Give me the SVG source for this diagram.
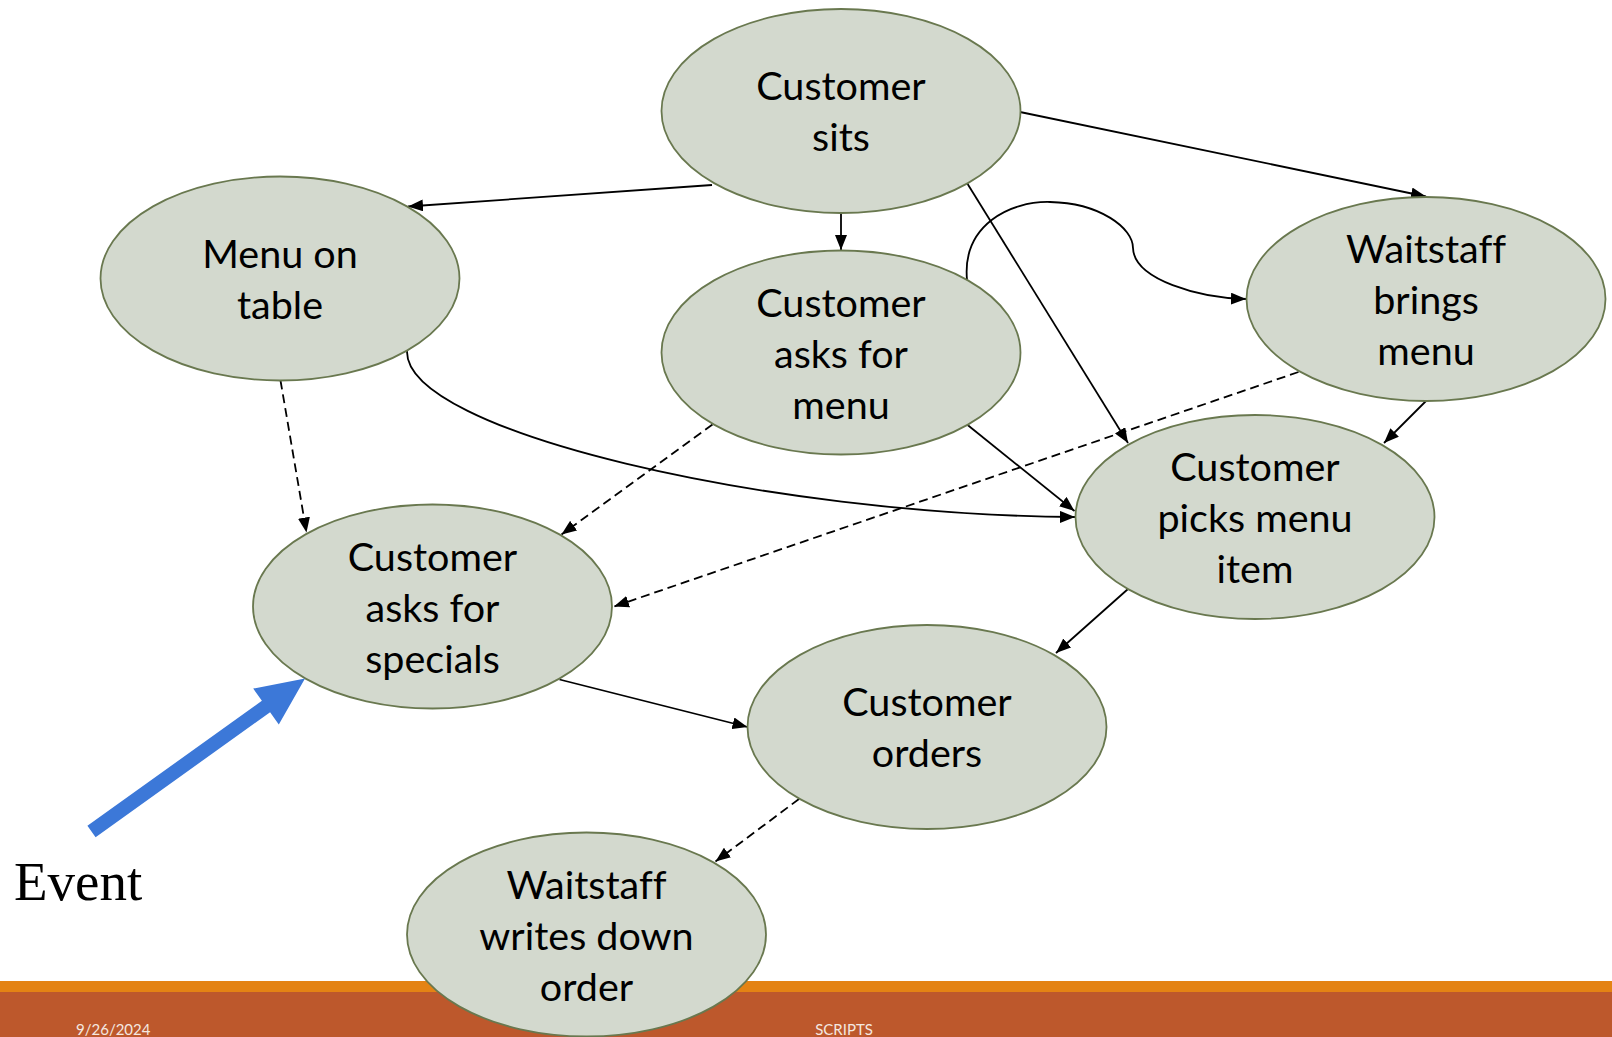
<svg xmlns="http://www.w3.org/2000/svg" width="1612" height="1037" viewBox="0 0 1612 1037">
<style>
.node ellipse{fill:#D3D9CE;stroke:#69784F;stroke-width:1.8}
.node text{font-family:Lato,"Open Sans","Liberation Sans",sans-serif;font-size:39.5px;fill:#000;text-anchor:middle;font-variant-ligatures:none}
.edge{fill:none;stroke:#000;stroke-width:1.8;marker-end:url(#ah)}
.dash{stroke-dasharray:9 5}
.foot{font-family:Lato,"Liberation Sans",sans-serif;font-size:15px;fill:#F4E8E0}
</style>
<defs>
<marker id="ah" markerUnits="userSpaceOnUse" viewBox="0 0 15 12" refX="15" refY="6" markerWidth="15" markerHeight="12" orient="auto">
<path d="M0,0 L15,6 L0,12 z" fill="#000"/>
</marker>
</defs>
<rect x="0" y="0" width="1612" height="1037" fill="#fff"/>
<g id="footer-bar">
<rect x="0" y="981" width="1612" height="11" fill="#E48314"/>
<rect x="0" y="992" width="1612" height="45" fill="#BD582C"/>
<text class="foot" x="76" y="1035">9/26/2024</text>
<text class="foot" x="844" y="1035" text-anchor="middle">SCRIPTS</text>
</g>
<g id="connectors">
<line class="edge" x1="712" y1="185" x2="408" y2="206.5"/>
<line class="edge" x1="841" y1="213" x2="841" y2="250"/>
<line class="edge" x1="1020" y1="112" x2="1426" y2="196.5"/>
<line class="edge" x1="967" y1="183" x2="1128" y2="443"/>
<path class="edge" d="M967,280 C962,225 1010,201 1050,202 C1100,203 1133,228 1133,248 C1134,280 1200,298 1246,299"/>
<path class="edge" d="M407,351 C405,432 770,515 1075,517"/>
<line class="edge" x1="967" y1="424.5" x2="1074.5" y2="511"/>
<line class="edge dash" x1="712.5" y1="424.5" x2="561.5" y2="534.5"/>
<line class="edge dash" x1="280.5" y1="380.5" x2="306.5" y2="532.5"/>
<line class="edge dash" x1="1298.5" y1="372" x2="614" y2="606.5"/>
<line class="edge" x1="1426" y1="401" x2="1384" y2="443"/>
<line class="edge" x1="1128" y1="589" x2="1056" y2="653"/>
<line class="edge" x1="559.5" y1="679.5" x2="747.5" y2="727"/>
<line class="edge dash" x1="799" y1="799" x2="715.5" y2="861.5"/>
</g>
<g id="n-sits" class="node">
<ellipse cx="841" cy="111" rx="179.5" ry="102"/>
<text x="841" y="100">Customer</text>
<text x="841" y="151">sits</text>
</g>
<g id="n-menu-table" class="node">
<ellipse cx="280" cy="278.5" rx="179.5" ry="102"/>
<text x="280" y="267.5">Menu on</text>
<text x="280" y="318.5">table</text>
</g>
<g id="n-asks-menu" class="node">
<ellipse cx="841" cy="352.5" rx="179.5" ry="102"/>
<text x="841" y="316.5">Customer</text>
<text x="841" y="367.5">asks for</text>
<text x="841" y="418.5">menu</text>
</g>
<g id="n-waitstaff-brings" class="node">
<ellipse cx="1426" cy="299" rx="179.5" ry="102"/>
<text x="1426" y="263">Waitstaff</text>
<text x="1426" y="314">brings</text>
<text x="1426" y="365">menu</text>
</g>
<g id="n-picks" class="node">
<ellipse cx="1255" cy="517" rx="179.5" ry="102"/>
<text x="1255" y="481">Customer</text>
<text x="1255" y="532">picks menu</text>
<text x="1255" y="583">item</text>
</g>
<g id="n-specials" class="node">
<ellipse cx="432.5" cy="606.5" rx="179.5" ry="102"/>
<text x="432.5" y="570.5">Customer</text>
<text x="432.5" y="621.5">asks for</text>
<text x="432.5" y="672.5">specials</text>
</g>
<g id="n-orders" class="node">
<ellipse cx="927" cy="727" rx="179.5" ry="102"/>
<text x="927" y="716">Customer</text>
<text x="927" y="767">orders</text>
</g>
<g id="n-writes" class="node">
<ellipse cx="586.5" cy="934.5" rx="179.5" ry="102"/>
<text x="586.5" y="898.5">Waitstaff</text>
<text x="586.5" y="949.5">writes down</text>
<text x="586.5" y="1000.5">order</text>
</g>
<g id="event">
<polygon points="95.6,837.2 270.1,712.2 278.8,724.4 305,678.5 253.2,688.6 261.9,700.8 87.4,825.8" fill="#3C78D8"/>
<text x="14" y="900" font-family="'Liberation Serif','Times New Roman',serif" font-size="55" fill="#000">Event</text>
</g>
</svg>
